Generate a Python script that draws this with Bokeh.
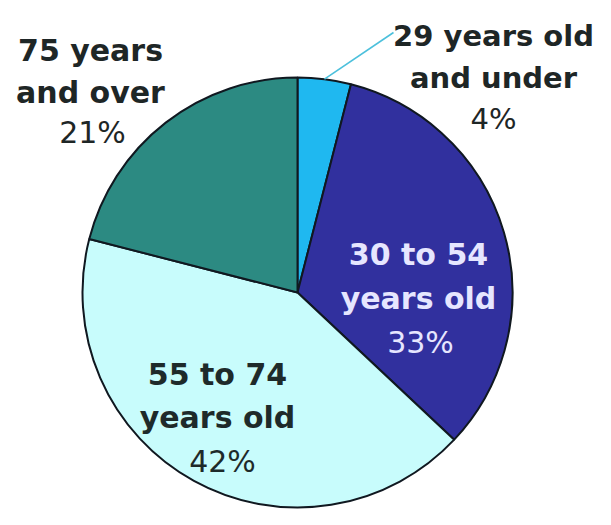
import numpy as np
from bokeh.plotting import figure
from bokeh.models import Range1d, ColumnDataSource
from bokeh.core.properties import value
from bokeh.embed import file_html
from bokeh.resources import INLINE

# ---- data ----
categories = ["29 years old\nand under", "30 to 54\nyears old", "55 to 74\nyears old", "75 years\nand over"]
shares = [4, 33, 42, 21]
colors = ["#1FB8F0", "#31309E", "#C8FCFC", "#2C8A82"]
text_colors = ["#1E2626", "#E6E6FF", "#1E2A2A", "#1E2626"]

# ---- layout (pixel positions of label lines: center x, baselines y) ----
label_cx = [493, 418, 217, 90]
label_sizes = ["29px", "30px", "30px", "30px"]
label_baselines = [[35, 77, 118], [254, 298, 342], [374, 417, 461], [50, 92, 132]]
pct_dx = [0, 2, 5, 2]
leader_end = (393, 32)

W, H = 595, 509
def py(y_pix):      # convert picture pixel y to data y
    return H - y_pix

p = figure(width=W, height=H, x_range=Range1d(0, W), y_range=Range1d(0, H),
           output_backend="svg", toolbar_location=None, min_border=0,
           x_axis_type=None, y_axis_type=None)
p.grid.visible = False
p.outline_line_color = None
p.background_fill_color = "white"

cx, cy, r = 297, py(292), 215

vals = np.array(shares, dtype=float)
frac = vals / vals.sum()
cum_after = np.cumsum(frac)
cum_before = cum_after - frac
start = np.pi / 2 - 2 * np.pi * cum_after
end = np.pi / 2 - 2 * np.pi * cum_before

src = ColumnDataSource(dict(x=[cx] * 4, y=[cy] * 4, start=start, end=end, color=colors))
p.wedge(x="x", y="y", radius=r, start_angle="start", end_angle="end",
        fill_color="color", line_color="#101820", line_width=2, source=src)

# leader line for the small slice
mid = (start[0] + end[0]) / 2
p.line([cx + r * np.cos(mid), leader_end[0]], [cy + r * np.sin(mid), py(leader_end[1])],
       line_color="#4CC0DC", line_width=1.6)

# labels
for i, cat in enumerate(categories):
    lines = cat.split("\n")
    bl = label_baselines[i]
    for j, t in enumerate(lines):
        p.text(x=[label_cx[i]], y=[py(bl[j])], text=[t], text_align="center",
               text_baseline="alphabetic", text_font=value("DejaVu Sans"),
               text_font_style="bold", text_font_size=label_sizes[i], text_color=text_colors[i])
    p.text(x=[label_cx[i] + pct_dx[i]], y=[py(bl[2])],
           text=[f"{shares[i]}%"], text_align="center",
           text_baseline="alphabetic", text_font=value("DejaVu Sans"),
           text_font_style="normal", text_font_size=label_sizes[i], text_color=text_colors[i])

open("out.html", "w").write(file_html(p, INLINE))
